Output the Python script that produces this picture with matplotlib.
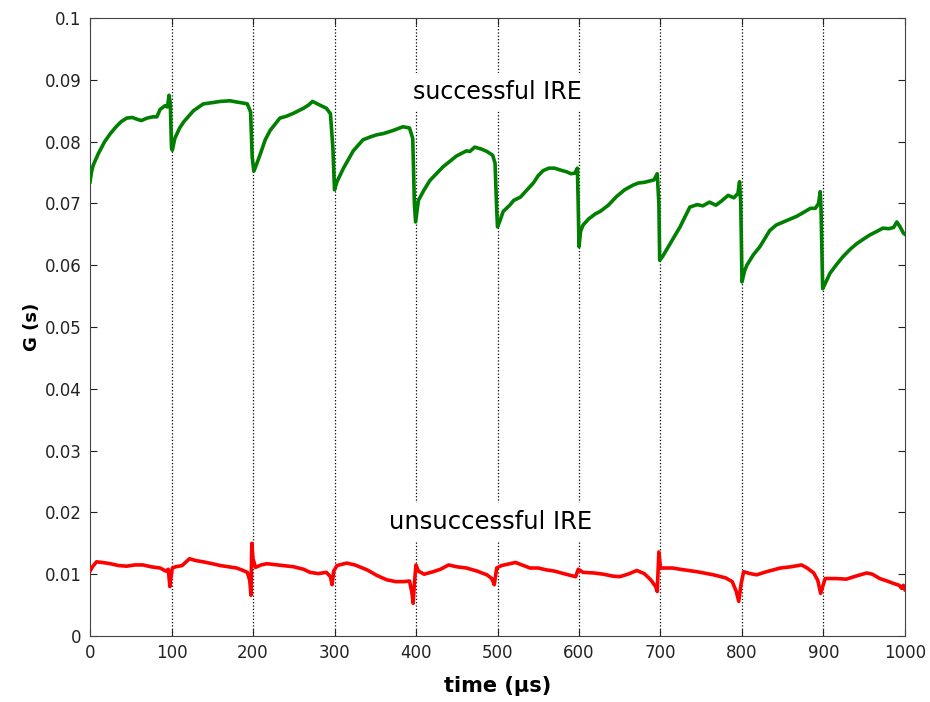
import numpy as np
import matplotlib.pyplot as plt

# conductance traces
t_green = [0, 2, 4, 10, 18, 25, 32, 38, 45, 52, 58, 63, 70, 77, 82, 86, 92, 95, 97, 98.5,
           100, 101, 104, 110, 115, 127, 139, 150, 160, 172, 180, 185, 193, 197, 199,
           201, 204, 209, 215, 221, 233, 241, 250, 262, 268, 273, 282, 290, 295, 298,
           300, 303, 311, 323, 335, 345, 352, 360, 372, 384, 392, 396, 398,
           399.5, 403, 410, 417, 433, 450, 462, 466, 472, 480, 487, 494, 497, 499,
           500, 503, 507, 515, 520, 528, 535, 544, 550, 556, 563, 570, 577, 585, 590, 595, 598, 599,
           600, 602, 605, 612, 620, 626, 636, 646, 656, 667, 673, 680, 686, 692, 696, 698,
           699, 703, 712, 724, 736, 745, 752, 760, 768, 775, 783, 790, 795, 797, 798.5,
           800, 803, 806, 814, 822, 834, 842, 851, 860, 867, 875, 884, 890, 894, 896, 897,
           899, 902, 908, 916, 924, 933, 941, 950, 957, 966, 973, 980, 986, 990, 994, 998, 1000]
g_green = [0.0735, 0.0752, 0.0762, 0.0780, 0.0800, 0.0813, 0.0824, 0.0832, 0.0838, 0.0839,
           0.0836, 0.0834, 0.0838, 0.0840, 0.0840, 0.0852, 0.0858, 0.0856, 0.0875, 0.0862,
           0.0790, 0.0786, 0.0805, 0.0822, 0.0832, 0.0850, 0.0861, 0.0863, 0.0865, 0.0866,
           0.0864, 0.0863, 0.0861, 0.0848, 0.0775,
           0.0752, 0.0762, 0.0780, 0.0803, 0.0818, 0.0838, 0.0841, 0.0846, 0.0854, 0.0859,
           0.0865, 0.0859, 0.0854, 0.0845, 0.0790,
           0.0722, 0.0735, 0.0757, 0.0785, 0.0803, 0.0808, 0.0811, 0.0813, 0.0818, 0.0824,
           0.0822, 0.0805, 0.0700,
           0.0670, 0.0705, 0.0722, 0.0737, 0.0759, 0.0777, 0.0785, 0.0784, 0.0791, 0.0788,
           0.0784, 0.0778, 0.0765, 0.0690,
           0.0662, 0.0672, 0.0687, 0.0697, 0.0705, 0.0710, 0.0720, 0.0733, 0.0745, 0.0753,
           0.0757, 0.0757, 0.0754, 0.0751, 0.0748, 0.0749, 0.0757, 0.0700,
           0.0630, 0.0655, 0.0665, 0.0675, 0.0683, 0.0687, 0.0697, 0.0711, 0.0722, 0.0730,
           0.0733, 0.0734, 0.0736, 0.0738, 0.0748, 0.0700,
           0.0608, 0.0615, 0.0635, 0.0662, 0.0694, 0.0698, 0.0696, 0.0702, 0.0697, 0.0704,
           0.0713, 0.0709, 0.0716, 0.0735, 0.0700,
           0.0573, 0.0590, 0.0600, 0.0617, 0.0630, 0.0656, 0.0665, 0.0670, 0.0675, 0.0679,
           0.0685, 0.0692, 0.0692, 0.0700, 0.0719, 0.0690,
           0.0562, 0.0570, 0.0587, 0.0601, 0.0614, 0.0626, 0.0635, 0.0643, 0.0649, 0.0655,
           0.0660, 0.0659, 0.0661, 0.0670, 0.0662, 0.0652, 0.0650]

t_red = [0, 3, 8, 15, 25, 35, 45, 55, 65, 75, 86, 93, 96, 98, 99, 101, 105, 113, 122, 130,
         139, 150, 160, 170, 180, 188, 193, 196, 197.5, 198.5, 200, 203, 210, 217, 230, 250,
         262, 270, 280, 290, 295, 297, 299, 303, 315, 325, 340, 352, 364, 375, 385, 392, 395,
         396.5, 398, 400, 403, 410, 421, 430, 440, 450, 462, 475, 487, 493, 496, 499, 505,
         515, 522, 530, 540, 550, 560, 570, 581, 590, 596, 599, 605, 618, 630, 641, 650, 660,
         671, 680, 688, 694, 696, 698, 700, 704, 715, 724, 745, 765, 780, 788, 793, 796, 799,
         802, 810, 818, 830, 847, 860, 873, 880, 888, 893, 896.5, 899, 902, 915, 928, 940,
         953, 960, 969, 978, 986, 993, 996, 998, 1000]
g_red = [0.0105, 0.0112, 0.0120, 0.0119, 0.0117, 0.0114, 0.0113, 0.0115, 0.0115, 0.0112,
         0.0110, 0.0105, 0.0108, 0.0080, 0.0092, 0.0110, 0.0112, 0.0114, 0.0125, 0.0122,
         0.0120, 0.0117, 0.0114, 0.0112, 0.0110, 0.0106, 0.0103, 0.0090, 0.0066, 0.0150,
         0.0125, 0.0111, 0.0115, 0.0117, 0.0115, 0.0112, 0.0108, 0.0103, 0.0101, 0.0103,
         0.0096, 0.0083, 0.0105, 0.0114, 0.0118, 0.0115, 0.0107, 0.0098, 0.0091, 0.0088,
         0.0088, 0.0089, 0.0070, 0.0053, 0.0085, 0.0115, 0.0105, 0.0100, 0.0104, 0.0108,
         0.0115, 0.0112, 0.0110, 0.0105, 0.0099, 0.0093, 0.0083, 0.0110, 0.0114, 0.0117,
         0.0119, 0.0115, 0.0110, 0.0110, 0.0107, 0.0105, 0.0101, 0.0098, 0.0096, 0.0108,
         0.0103, 0.0102, 0.0100, 0.0097, 0.0096, 0.0100, 0.0106, 0.0101, 0.0091, 0.0080,
         0.0072, 0.0136, 0.0110, 0.0110, 0.0110, 0.0108, 0.0104, 0.0099, 0.0094, 0.0088,
         0.0072, 0.0056, 0.0085, 0.0104, 0.0101, 0.0099, 0.0104, 0.0110, 0.0112, 0.0115,
         0.0110, 0.0102, 0.0090, 0.0069, 0.0080, 0.0093, 0.0093, 0.0092, 0.0097, 0.0102,
         0.0100, 0.0093, 0.0089, 0.0085, 0.0082, 0.0077, 0.0082, 0.0075]

pulse_times = [100, 200, 300, 400, 500, 600, 700, 800, 900]
x_ticks = [0, 100, 200, 300, 400, 500, 600, 700, 800, 900, 1000]
y_ticks = [0, 0.01, 0.02, 0.03, 0.04, 0.05, 0.06, 0.07, 0.08, 0.09, 0.1]
y_ticklabels = ['0', '0.01', '0.02', '0.03', '0.04', '0.05', '0.06', '0.07', '0.08', '0.09', '0.1']

fig = plt.figure(figsize=(9.3, 7.02), dpi=100)
ax = fig.add_axes([0.0968, 0.094, 0.8763, 0.8804])

# dotted pulse markers
for p in pulse_times:
    ax.axvline(p, color='black', linestyle=':', linewidth=0.9, zorder=1)

ax.plot(t_green, g_green, color='#007f00', linewidth=2.6, zorder=3)
ax.plot(t_red, g_red, color='#ff0000', linewidth=2.6, zorder=3)

ax.text(500, 0.0880, 'successful IRE', ha='center', va='center', fontsize=17,
        bbox=dict(facecolor='white', edgecolor='none', boxstyle='square,pad=0.3'), zorder=2)
ax.text(491, 0.0184, 'unsuccessful IRE', ha='center', va='center', fontsize=17.5,
        bbox=dict(facecolor='white', edgecolor='none', boxstyle='square,pad=0.3'), zorder=2)

ax.set_xlim(0, 1000)
ax.set_ylim(0, 0.1)
ax.set_xticks(x_ticks)
ax.set_yticks(y_ticks)
ax.set_yticklabels(y_ticklabels)
ax.tick_params(direction='in', length=5, width=0.8, labelsize=12, colors='#222222',
               top=True, right=True, pad=6)
for s in ax.spines.values():
    s.set_color('#444444')
    s.set_linewidth(0.8)

ax.set_xlabel('time (\u03bcs)', fontsize=15, fontweight='bold', labelpad=10)
ax.set_ylabel('G (s)', fontsize=13, fontweight='bold', labelpad=3)

fig.savefig('out.png', dpi=100)
